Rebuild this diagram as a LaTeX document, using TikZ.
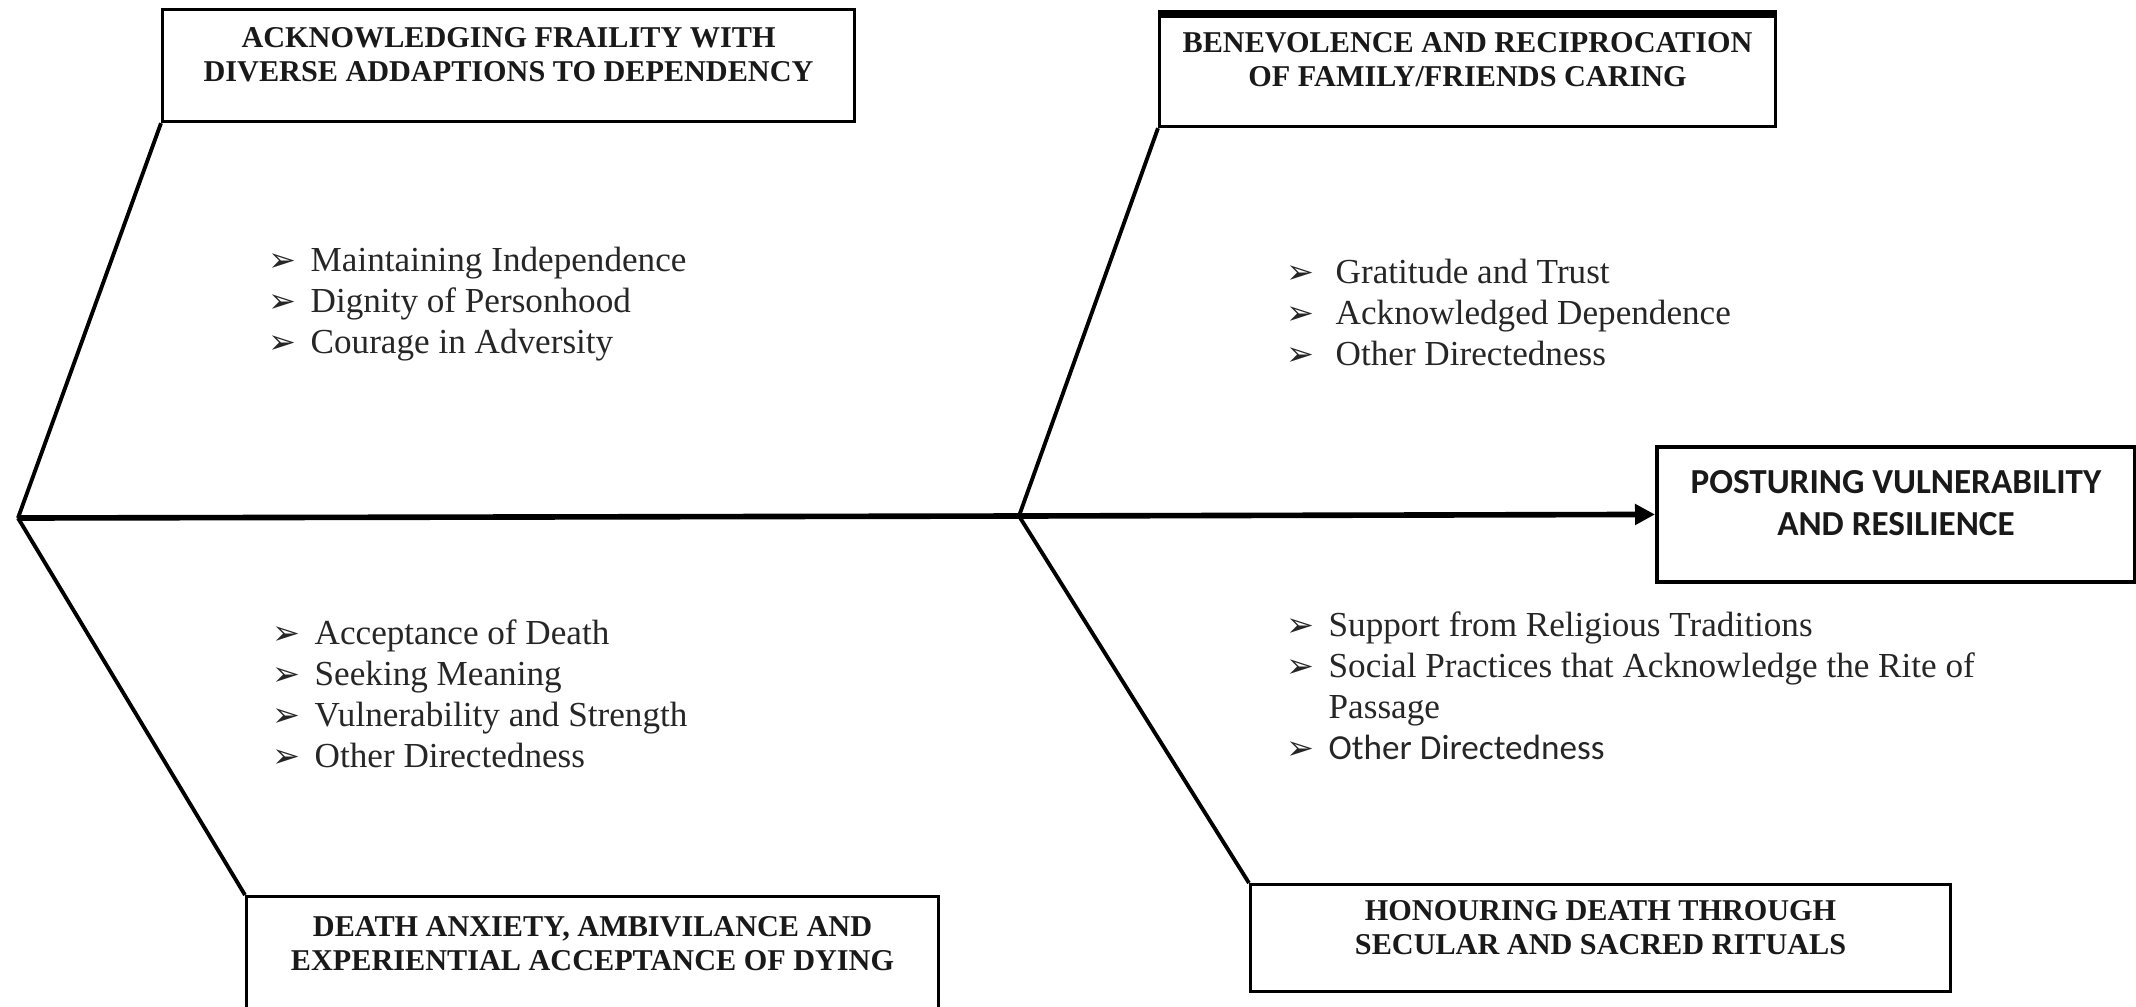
\documentclass[tikz,border=0pt]{standalone}
\usepackage{fontspec}
\setmainfont{Liberation Serif}
\newfontfamily\calibri{Carlito}
\newfontfamily\dejavu{DejaVu Sans}
\usetikzlibrary{arrows.meta,calc}

\newcommand{\arr}[1][4.2mm]{\makebox[#1][l]{\dejavu\fontsize{9.5}{9.5}\selectfont ➢}}

\tikzset{
  box/.style={draw, line width=0.9pt, inner sep=0pt, anchor=north west},
  bone/.style={line width=1.1pt},
  spine/.style={line width=1.6pt, -{Triangle[length=2mm,width=2mm]}},
  title/.style={font=\fontsize{8.6}{9.7}\selectfont\bfseries, align=center,
    inner sep=0pt, anchor=north, text=black!90},
  items/.style={font=\fontsize{10}{11.7}\selectfont, align=left,
    inner sep=0pt, anchor=north west, text=black!85},
}

\begin{document}
\begin{tikzpicture}[x=0.1mm,y=-0.1mm]
  \useasboundingbox (0,0) rectangle (2136,1006);

  \node[box,minimum width=69.2mm,minimum height=11.2mm] (frail) at (161,8) {};
  \node[box,minimum width=61.6mm,minimum height=11.1mm] (bene) at (1158,14) {};
  \node[box,minimum width=69.2mm,minimum height=13mm] (death) at (245,895) {};
  \node[box,minimum width=70mm,minimum height=10.7mm] (honour) at (1249,883) {};
  \node[box,line width=1.1pt,minimum width=47.8mm,minimum height=13.5mm] (post) at (1655,445) {};
  \draw[line width=2pt] (bene.north west) -- (bene.north east);

  % box titles
  \node[title] at ([yshift=-1.9mm]frail.north) {ACKNOWLEDGING FRAILITY WITH\\DIVERSE ADDAPTIONS TO DEPENDENCY};
  \node[title] at ([yshift=-1.8mm]bene.north) {BENEVOLENCE AND RECIPROCATION\\OF FAMILY/FRIENDS CARING};
  \node[title] at ([yshift=-2.1mm]death.north) {DEATH ANXIETY, AMBIVILANCE AND\\EXPERIENTIAL ACCEPTANCE OF DYING};
  \node[title] at ([yshift=-1.7mm]honour.north) {HONOURING DEATH THROUGH\\SECULAR AND SACRED RITUALS};
  \node[title,font=\fontsize{10}{12}\selectfont\calibri\bfseries] at ([yshift=-2.5mm]post.north) {POSTURING VULNERABILITY\\AND RESILIENCE};

  % spine and bones
  \coordinate (tail) at (18,518);
  \coordinate (mid) at (1019,516);
  \draw[spine] (tail) -- (mid) -- (post.west);
  \draw[bone] (tail) -- (frail.south west);
  \draw[bone] (tail) -- (death.north west);
  \draw[bone] (mid) -- (bene.south west);
  \draw[bone] (mid) -- (honour.north west);

  % sub-themes
  \node[items] (l1) at (268,246) {\arr Maintaining Independence\\\arr Dignity of Personhood\\\arr Courage in Adversity};
  \node[items] (l2) at (272,619) {\arr Acceptance of Death\\\arr Seeking Meaning\\\arr Vulnerability and Strength\\\arr Other Directedness};
  \node[items] (r1) at (1286,258) {\arr[4.9mm]Gratitude and Trust\\\arr[4.9mm]Acknowledged Dependence\\\arr[4.9mm]Other Directedness};
  \node[items] (r2) at (1286,611) {\arr Support from Religious Traditions\\\arr Social Practices that Acknowledge the Rite of\\\hspace*{4.2mm}Passage\\\arr{\calibri Other Directedness}};
\end{tikzpicture}
\end{document}
